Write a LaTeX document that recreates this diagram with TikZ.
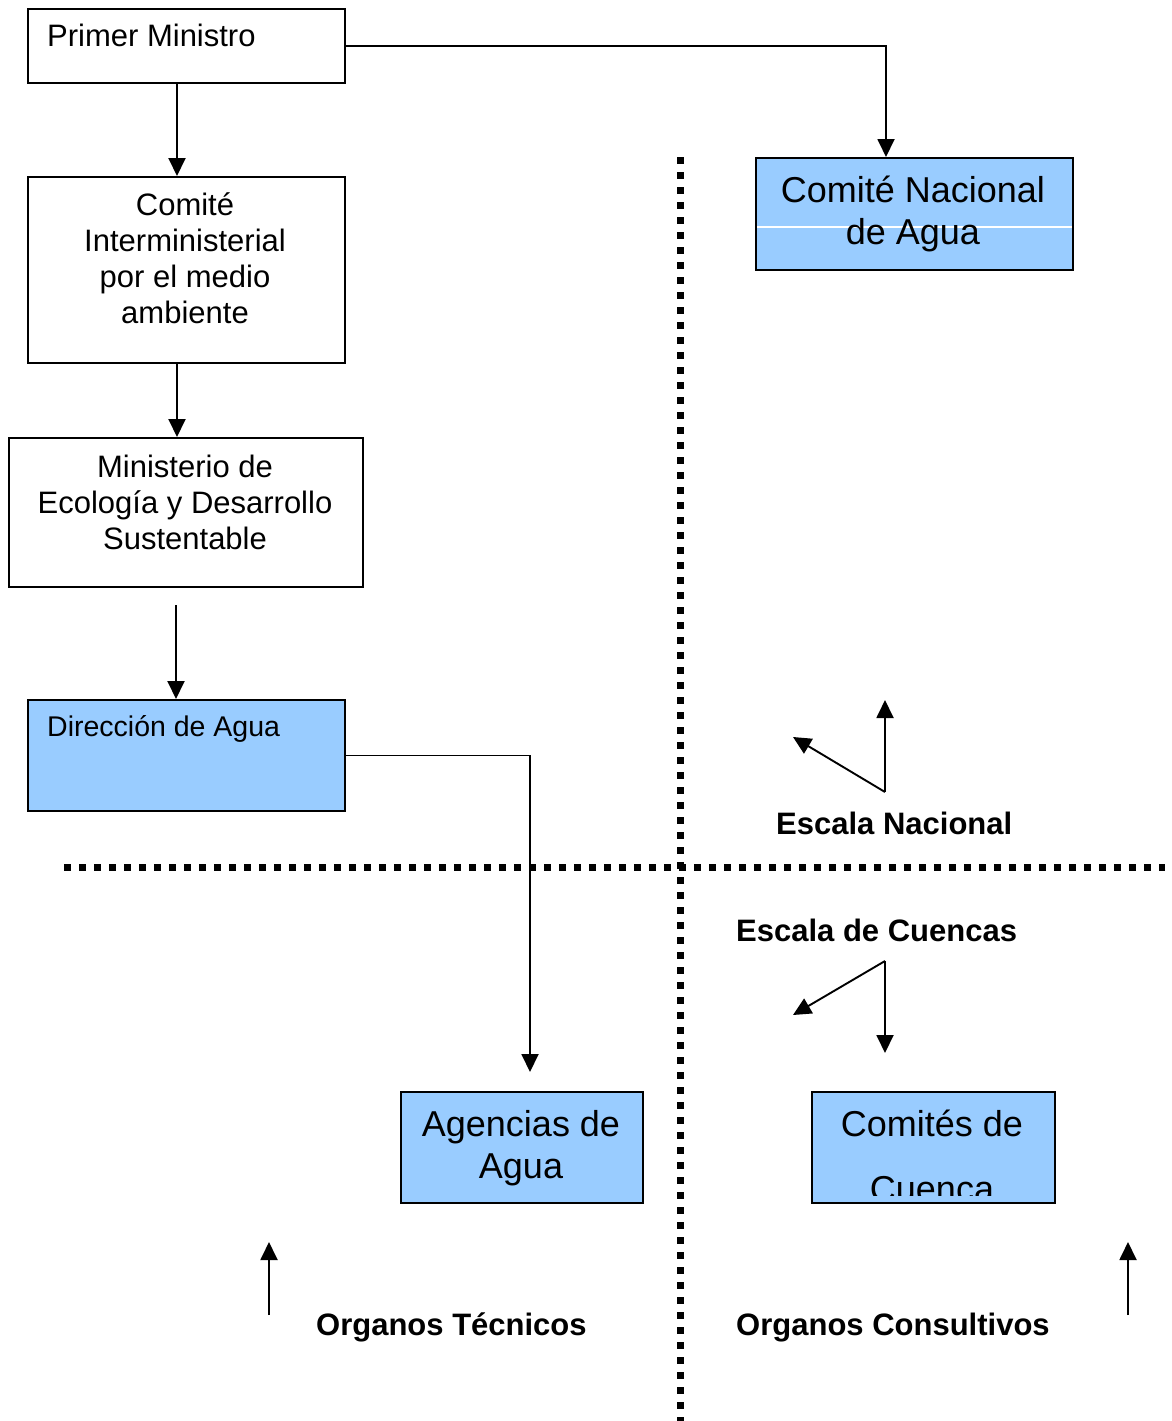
\documentclass[tikz,border=0pt]{standalone}
\usepackage{fontspec}
\setmainfont{Liberation Sans}
\usepackage{tikz}
\usetikzlibrary{arrows.meta, positioning, calc}

\definecolor{aguablue}{HTML}{99CCFF}

\begin{document}
\begin{tikzpicture}[x=1pt, y=-1pt]
    \tikzset{
        box/.style={draw=black, line width=2pt, rectangle, inner sep=0pt, anchor=north west},
        bluebox/.style={box, fill=aguablue},
        small text/.style={font=\fontsize{31}{35.7}\selectfont, inner sep=0pt},
        big text/.style={font=\fontsize{36}{42}\selectfont, inner sep=0pt},
        scale label/.style={font=\fontsize{31}{36}\selectfont\bfseries, inner sep=0pt, anchor=base west},
        link/.style={-{Triangle[width=17pt, length=18pt]}, line width=1.9pt},
        dotline/.style={line width=7pt, dash pattern=on 7pt off 8pt}
    }
    \useasboundingbox (0,0) rectangle (1172,1421);

    % dividing lines
    \draw[dotline] (680,157) -- (680,1421);
    \draw[dotline] (64,867) -- (1165,867);

    % boxes
    \node[box, minimum width=317pt, minimum height=74pt] (pm) at (27,8) {};
    \node[box, minimum width=317pt, minimum height=186pt] (cim) at (27,176) {};
    \node[box, minimum width=354pt, minimum height=149pt] (med) at (8,437) {};
    \node[bluebox, minimum width=317pt, minimum height=111pt] (dir) at (27,699) {};
    \node[bluebox, minimum width=317pt, minimum height=112pt] (cna) at (755,157) {};
    \node[bluebox, minimum width=242pt, minimum height=111pt] (age) at (400,1091) {};
    \node[bluebox, minimum width=243pt, minimum height=111pt] (cue) at (811,1091) {};
    \draw[white, line width=1.2pt] ($(cna.west |- 0,227)+(2,0)$) -- ($(cna.east |- 0,227)+(-2,0)$);

    % box texts (base = last line)
    \node[small text, anchor=base west] (pmtxt) at (47,47) {Primer Ministro};
    \node[small text, align=center, anchor=base] (cimtxt) at (185,323) {Comité\\Interministerial\\por el medio\\ambiente};
    \node[small text, align=center, anchor=base] (medtxt) at (185,549) {Ministerio de\\Ecología y Desarrollo\\Sustentable};
    \node[small text, font=\fontsize{28.5}{33}\selectfont, anchor=base west] (dirtxt) at (47,736) {Dirección de Agua};
    \node[big text, align=center, anchor=base] (cnatxt) at (913,244) {Comité Nacional\\de Agua};
    \node[big text, align=center, anchor=base] (agetxt) at (521,1178) {Agencias de\\Agua};
    \begin{scope}
        \clip (cue.north west) rectangle ($(cue.south east)+(0,-9)$);
        \node[font=\fontsize{36}{65}\selectfont, inner sep=0pt, align=center, anchor=base] (cuetxt) at (932,1201) {Comités de\\Cuenca};
    \end{scope}

    % hierarchy links
    \draw[link] ([xshift=-9.5pt]pm.south) -- ([xshift=-9.5pt]cim.north);
    \draw[link] ([xshift=-9.5pt]cim.south) -- ([xshift=-9.5pt]cim.south |- med.north);
    \coordinate (dirin) at (176,605);
    \draw[link] (dirin) -- (dirin |- dir.north);
    \draw[link] (pm.east) -| ([xshift=-28.5pt]cna.north);
    \coordinate (agein) at (530,1072);
    \draw[link] (dir.east) -| (agein);

    % scale arrows
    \coordinate (nat) at (885,792);
    \coordinate (natup) at (885,700);
    \coordinate (natleft) at (793,737);
    \draw[link] (nat) -- (natup);
    \draw[link] (nat) -- (natleft);
    \coordinate (bas) at (885,961);
    \coordinate (basdown) at (885,1053);
    \coordinate (basleft) at (793,1015);
    \draw[link] (bas) -- (basdown);
    \draw[link] (bas) -- (basleft);
    \coordinate (tec) at (269,1315);
    \coordinate (tecup) at (269,1242);
    \draw[link] (tec) -- (tecup);
    \coordinate (con) at (1128,1315);
    \coordinate (conup) at (1128,1242);
    \draw[link] (con) -- (conup);

    % scale labels
    \node[scale label] (nacional) at (776,834) {Escala Nacional};
    \node[scale label] (cuencas) at (736,941) {Escala de Cuencas};
    \node[scale label] (tecnicos) at (316,1335) {Organos Técnicos};
    \node[scale label] (consultivos) at (736,1335) {Organos Consultivos};
\end{tikzpicture}
\end{document}
